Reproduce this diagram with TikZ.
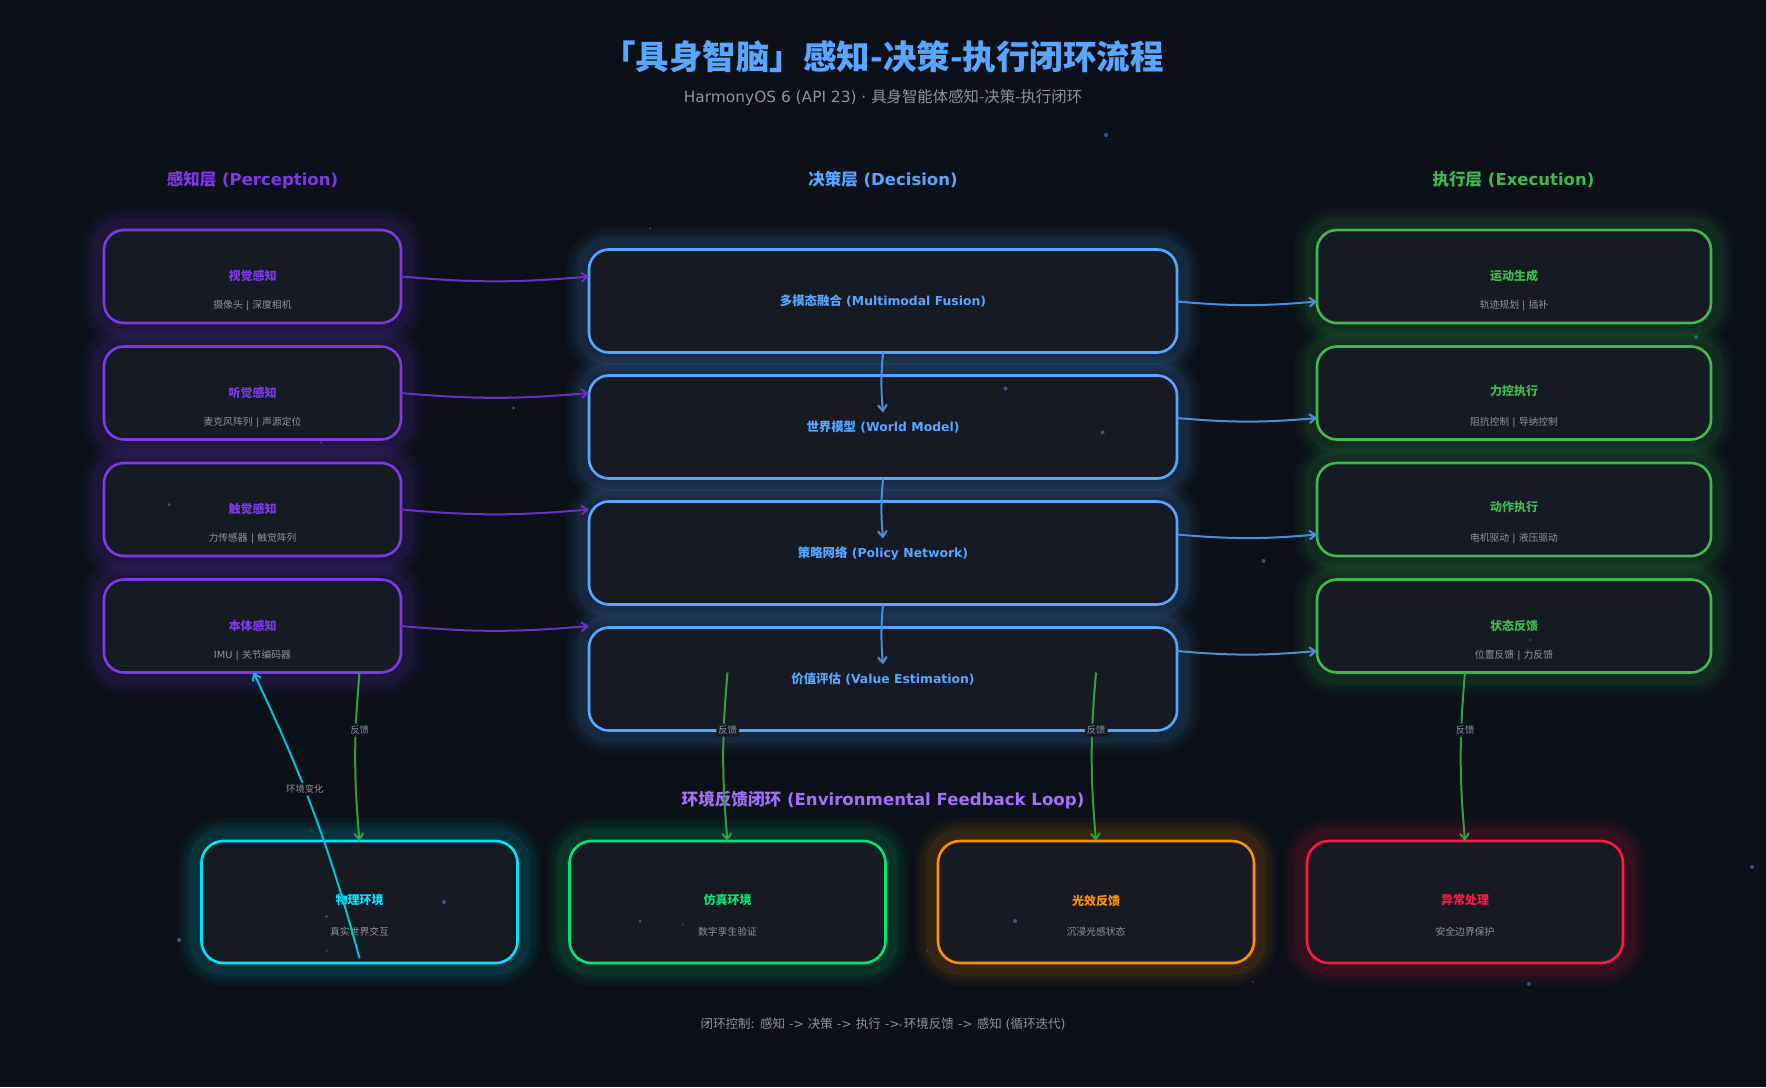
\documentclass[tikz,border=0pt]{standalone}
\usepackage{fontspec}
\usetikzlibrary{arrows.meta,calc}
\setmainfont{DejaVu Sans}
\newfontfamily\zhfont{Noto Sans CJK SC}

\definecolor{bgcol}{HTML}{0C1119}
\definecolor{cardbg}{HTML}{161B23}
\definecolor{percep}{HTML}{7B3AE6}
\definecolor{decis}{HTML}{58A6FF}
\definecolor{exec}{HTML}{3FB950}
\definecolor{envcyan}{HTML}{00E5FF}
\definecolor{envgreen}{HTML}{00E676}
\definecolor{envorange}{HTML}{FF9100}
\definecolor{envred}{HTML}{FF1744}
\definecolor{looptext}{HTML}{A371F7}
\definecolor{subtext}{HTML}{8B949E}
\definecolor{dotcol}{HTML}{2F5B8C}

\begin{document}
\begin{tikzpicture}[x=1pt,y=-1pt,
  glow/.style={
    preaction={draw=#1,draw opacity=.035,line width=46pt},
    preaction={draw=#1,draw opacity=.04,line width=38pt},
    preaction={draw=#1,draw opacity=.03,line width=31pt},
    preaction={draw=#1,draw opacity=.07,line width=25pt}},
  card/.style={rectangle,rounded corners=20pt,inner sep=0pt,outer sep=0pt,
    fill=cardbg,draw=#1,line width=2.6pt,glow=#1},
  head/.style={inner sep=0pt,anchor=base},
  cardtitle/.style={text=#1,head},
  cardsub/.style={text=subtext,head},
  flow/.style={draw=#1,line width=2pt,-{Straight Barb[length=6pt,width=9pt]}},
  tag/.style={fill=#1,text=subtext,inner sep=2pt,minimum height=13pt,rounded corners=1.5pt},
]

%pixel size font macros
\newcommand{\px}[1]{\fontsize{#1}{#1}\selectfont}
\newcommand{\zh}[1]{{\zhfont #1}}

\fill[bgcol] (0,0) rectangle (1766,1087);
\useasboundingbox (0,0) rectangle (1766,1087);

%headings
\node[head,text=decis,font=\zhfont\bfseries\px{33.5}] (title) at (883,69) {「具身智脑」感知-决策-执行闭环流程};
\node[head,text=subtext,font=\px{15.4}] (subtitle) at (883,102) {HarmonyOS 6 (API 23) · \zh{具身智能体感知-决策-执行闭环}};
\node[head,text=percep,font=\bfseries\px{16.5}] (head1) at (252.5,185) {\zh{感知层} (Perception)};
\node[head,text=decis,font=\bfseries\px{16.5}] (head2) at (883,185) {\zh{决策层} (Decision)};
\node[head,text=exec,font=\bfseries\px{16.5}] (head3) at (1513.5,185) {\zh{执行层} (Execution)};
\node[head,text=looptext,font=\bfseries\px{16.6}] (head4) at (883,805) {\zh{环境反馈闭环} (Environmental Feedback Loop)};
\node[head,text=subtext,font=\px{12.5}] (footer) at (883,1028) {\zh{闭环控制}: \zh{感知} -> \zh{决策} -> \zh{执行} -> \zh{环境反馈} -> \zh{感知} (\zh{循环迭代})};

%perception column
\foreach \i/\y/\tn/\sn in {
  1/276.5/视觉感知/\zh{摄像头} | \zh{深度相机},
  2/393/听觉感知/\zh{麦克风阵列} | \zh{声源定位},
  3/509.5/触觉感知/\zh{力传感器} | \zh{触觉阵列},
  4/626/本体感知/IMU | \zh{关节编码器}}{
  \node[card=percep,minimum width=297pt,minimum height=93pt] (P\i) at (252.5,\y) {};
  \node[cardtitle=percep,font=\zhfont\bfseries\px{12}] (P\i t) at (252.5,{\y+4}) {\tn};
  \node[cardsub,font=\px{9.8}] (P\i s) at (252.5,{\y+32}) {\sn};
}

%decision column
\foreach \i/\y/\tn in {
  1/301/\zh{多模态融合} (Multimodal Fusion),
  2/427/\zh{世界模型} (World Model),
  3/553/\zh{策略网络} (Policy Network),
  4/679/\zh{价值评估} (Value Estimation)}{
  \node[card=decis,minimum width=588pt,minimum height=103pt] (D\i) at (883,\y) {};
  \node[cardtitle=decis,font=\bfseries\px{12.4}] (D\i t) at (883,{\y+4.5}) {\tn};
}

%execution column
\foreach \i/\y/\ty/\tn/\sn in {
  1/276.5/276.5/运动生成/\zh{轨迹规划} | \zh{插补},
  2/393/391.5/力控执行/\zh{阻抗控制} | \zh{导纳控制},
  3/509.5/507.5/动作执行/\zh{电机驱动} | \zh{液压驱动},
  4/626/626/状态反馈/\zh{位置反馈} | \zh{力反馈}}{
  \node[card=exec,minimum width=394pt,minimum height=93pt] (E\i) at (1514,\y) {};
  \node[cardtitle=exec,font=\zhfont\bfseries\px{12}] (E\i t) at (1514,{\ty+4}) {\tn};
  \node[cardsub,font=\px{9.8}] (E\i s) at (1514,{\y+32}) {\sn};
}

%environment row
\foreach \i/\x/\ty/\col/\tn/\sn in {
  1/359.5/904/envcyan/物理环境/真实世界交互,
  2/727.5/904/envgreen/仿真环境/数字孪生验证,
  3/1096/905/envorange/光效反馈/沉浸光感状态,
  4/1465/904/envred/异常处理/安全边界保护}{
  \node[card=\col,rounded corners=22pt,minimum width=316pt,minimum height=122pt] (F\i) at (\x,902) {};
  \node[cardtitle=\col,font=\zhfont\bfseries\px{12}] (F\i t) at (\x,\ty) {\tn};
  \node[cardsub,font=\zhfont\px{9.8}] (F\i s) at (\x,935) {\sn};
}

%background specks
\foreach \x/\y/\r in {1106/135/2,650/228.5/1,513.5/408/1.5,321/442.5/1,169/504.5/1.5,
  1005.5/388.5/2,1102.5/432.5/2,1696/337/2,1263.5/561/2,1752/867/2,1529/984/2,1253/982/1,
  927/950.5/1,1015/921/2,682.5/924.5/1,640/921/1.5,444/902/2,326.5/916.5/1.5,326.5/950.5/1,
  179/940/2,1530/640/1,900.5/1025/1.5}{
  \fill[dotcol] (\x,\y) circle (\r);
}

%perception to decision
\foreach \i in {1,2,3,4}{
  \draw[flow=percep!85!black] (P\i.east) to[bend right=5] (D1.west |- P\i.east);
}

%decision to execution
\foreach \i in {1,2,3,4}{
  \coordinate (E\i in) at ([yshift=-25pt]E\i.west);
  \draw[flow=decis!85!black] (D1.east |- E\i in) to[bend right=5] (E\i in);
}

%decision chain
\foreach \i in {1,2,3}{
  \draw[flow=decis!85!black] (D\i.south) to[bend right=5] ([yshift=-60pt]D\i.south);
}

%feedback to the environment row
\coordinate (S1) at (P4.south -| F1.north);
\coordinate (S2) at (P4.south -| F2.north);
\coordinate (S3) at (P4.south -| F3.north);
\coordinate (S4) at (P4.south -| F4.north);
\foreach \i/\bg in {1/bgcol,2/cardbg,3/cardbg,4/bgcol}{
  \draw[flow=exec!85!black] (S\i) to[bend right=5]
    node[tag=\bg,pos=.33,xshift=4pt,font=\zhfont\px{9.3}] (L\i) {反馈} (F\i.north);
}

%environment change back to perception
\coordinate (P4in) at ($(P4.south)+(1,0)$);
\draw[flow=envcyan!85!black] ([yshift=5pt]F1.south) to[bend right=5]
  node[tag=bgcol,pos=.59,font=\zhfont\px{9.3}] (L5) {环境变化} (P4in);

\end{tikzpicture}
\end{document}
